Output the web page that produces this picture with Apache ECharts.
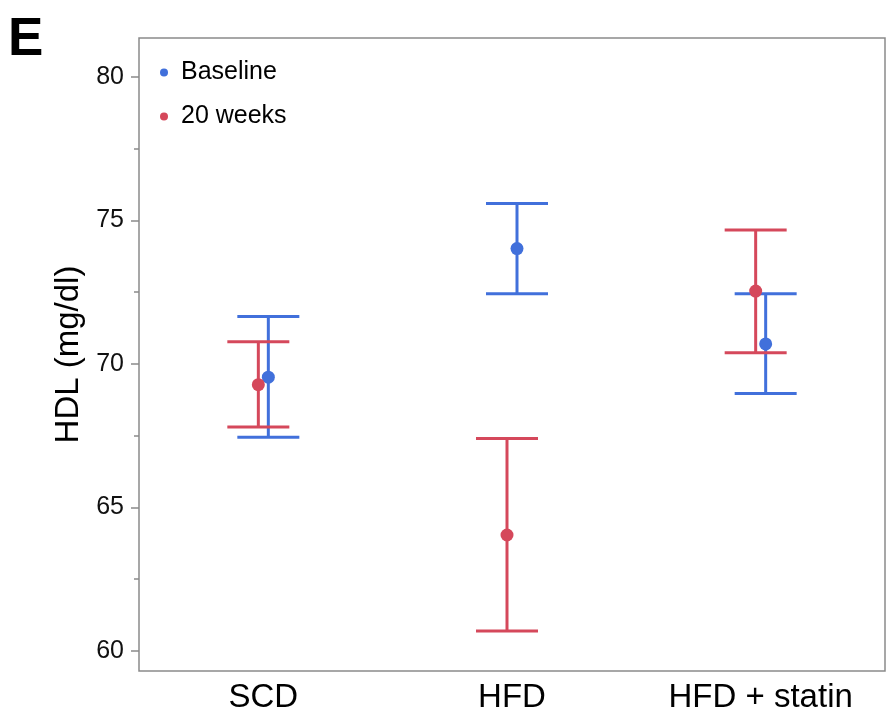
<!DOCTYPE html>
<html>
<head>
<meta charset="utf-8">
<script src="https://cdn.jsdelivr.net/npm/echarts@6/dist/echarts.min.js"></script>
<style>html,body{margin:0;padding:0;background:#fff}#c{width:890px;height:720px}</style>
</head>
<body>
<div id="c"></div>
<script>
// ---- data ----
const categories = ['SCD', 'HFD', 'HFD + statin'];
const seriesNames = ['Baseline', '20 weeks'];
const baselineMean  = [69.54, 74.02, 70.70];
const baselineUpper = [71.65, 75.59, 72.45];
const baselineLower = [67.45, 72.45, 68.97];
const week20Mean  = [69.28, 64.04, 72.54];
const week20Upper = [70.77, 67.40, 74.67];
const week20Lower = [67.80, 60.69, 70.39];
const yTickLabels = [60, 65, 70, 75, 80];
const yMinorTicks = [62.5, 67.5, 72.5, 77.5];

// ---- style ----
const FONT = '"Liberation Sans", Arial, Helvetica, sans-serif';
const BLUE = '#4170db';
const RED = '#d5485b';

function buildData(mean, lower, upper) {
  return categories.map((c, i) => [i, mean[i], lower[i], upper[i]]);
}

function errRender(dodge, color) {
  return function (params, api) {
    const idx = api.value(0);
    const pm = api.coord([idx, api.value(1)]);
    const pl = api.coord([idx, api.value(2)]);
    const pu = api.coord([idx, api.value(3)]);
    const x = pm[0] + dodge;
    const hw = 31;
    const ls = { stroke: color, lineWidth: 3 };
    return {
      type: 'group',
      children: [
        { type: 'line', shape: { x1: x, y1: pu[1], x2: x, y2: pl[1] }, style: ls },
        { type: 'line', shape: { x1: x - hw, y1: pu[1], x2: x + hw, y2: pu[1] }, style: ls },
        { type: 'line', shape: { x1: x - hw, y1: pl[1], x2: x + hw, y2: pl[1] }, style: ls },
        { type: 'circle', shape: { cx: x, cy: pm[1], r: 6.5 }, style: { fill: color } }
      ]
    };
  };
}

const chart = echarts.init(document.getElementById('c'), null, { renderer: 'canvas' });
const yMin = 59.30, yMax = 81.36;
chart.setOption({
  backgroundColor: '#fff',
  animation: false,
  textStyle: { fontFamily: FONT },
  graphic: [{
    type: 'text', left: 8, top: 14,
    style: { text: 'E', font: 'bold 53px ' + FONT, fill: '#000' }
  }],
  legend: {
    data: seriesNames,
    orient: 'vertical',
    left: 155, top: 55,
    icon: 'circle',
    itemWidth: 8, itemHeight: 8,
    itemGap: 19,
    textStyle: { fontSize: 25, color: '#000', fontFamily: FONT, padding: [0, 0, 0, 8] },
    selectedMode: false
  },
  grid: {
    left: 139, right: 5, top: 38, bottom: 49,
    show: true, borderColor: '#8a8a8a', borderWidth: 1.5, backgroundColor: 'transparent'
  },
  xAxis: {
    type: 'category',
    data: categories,
    axisLine: { show: false },
    axisTick: { show: false },
    axisLabel: { fontSize: 33, color: '#000', margin: 10, fontFamily: FONT },
    splitLine: { show: false }
  },
  yAxis: [{
    type: 'value', min: yMin, max: yMax,
    name: 'HDL (mg/dl)', nameLocation: 'middle', nameGap: 52,
    nameTextStyle: { fontSize: 33, color: '#000', fontFamily: FONT },
    axisLine: { show: false },
    axisTick: { show: true, length: 8, lineStyle: { color: '#8a8a8a', width: 1.5 }, customValues: yTickLabels },
    axisLabel: { fontSize: 25, color: '#111', margin: 15, fontFamily: FONT, customValues: yTickLabels },
    splitLine: { show: false }
  }, {
    type: 'value', min: yMin, max: yMax, position: 'left', offset: 0,
    axisLine: { show: false },
    axisTick: { show: true, length: 5, lineStyle: { color: '#8a8a8a', width: 1.5 }, customValues: yMinorTicks },
    axisLabel: { show: false },
    splitLine: { show: false }
  }],
  series: [{
    name: seriesNames[0], type: 'custom',
    itemStyle: { color: BLUE },
    renderItem: errRender(5, BLUE),
    encode: { x: 0, y: [1, 2, 3] },
    data: buildData(baselineMean, baselineLower, baselineUpper),
    z: 2
  }, {
    name: seriesNames[1], type: 'custom',
    itemStyle: { color: RED },
    renderItem: errRender(-5, RED),
    encode: { x: 0, y: [1, 2, 3] },
    data: buildData(week20Mean, week20Lower, week20Upper),
    z: 3
  }]
});
</script>
</body>
</html>
